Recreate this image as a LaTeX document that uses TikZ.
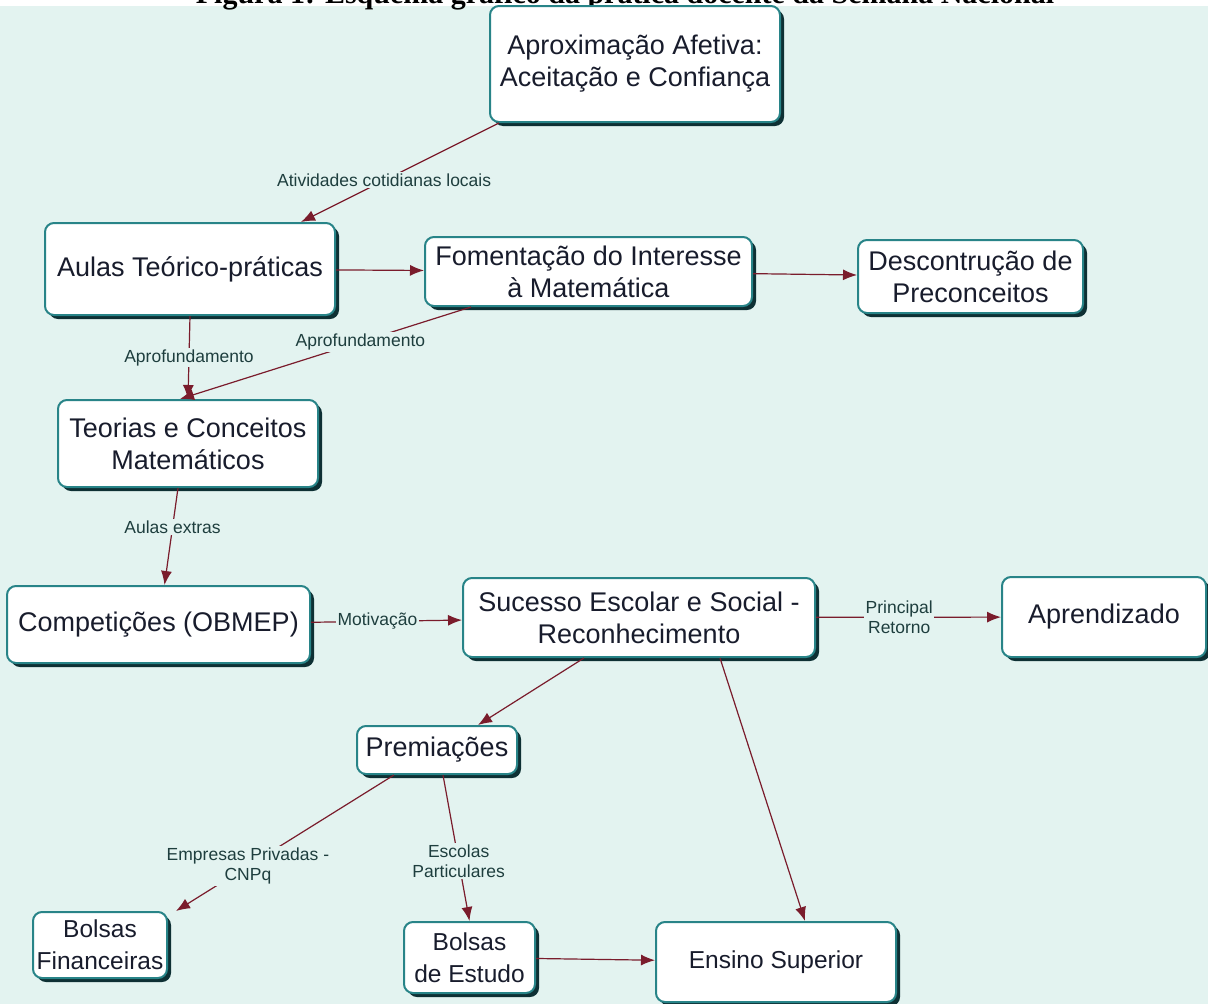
\documentclass[tikz,border=0pt]{standalone}
\usepackage{fontspec}
\setmainfont{Liberation Sans}
\newfontfamily\titlefont{Liberation Serif}
\usetikzlibrary{arrows.meta,shadows,calc}
\definecolor{fundo}{RGB}{227,243,240}
\definecolor{borda}{RGB}{40,132,136}
\definecolor{sombra}{RGB}{14,48,52}
\definecolor{seta}{RGB}{122,28,44}
\definecolor{texto}{RGB}{24,28,44}
\definecolor{cortexto}{RGB}{30,62,62}
\tikzset{
  caixa/.style={rectangle, rounded corners=9pt, draw=borda, line width=2pt, fill=white,
    text=texto, align=center, inner sep=0pt, font=\fontsize{27}{32}\selectfont,
    drop shadow={shadow xshift=4pt, shadow yshift=-4pt, fill=sombra, opacity=1}},
  menor/.style={font=\fontsize{24.5}{32}\selectfont},
  liga/.style={draw=seta, line width=1.2pt, -{Latex[length=14pt,width=11pt]}},
  rotulo/.style={fill=fundo, text=cortexto, inner sep=1.5pt, align=center,
    font=\fontsize{17.5}{20}\selectfont}
}
\begin{document}
\begin{tikzpicture}[x=1pt,y=-1pt]
      % fundo e titulo cortado
      \useasboundingbox (0,0) rectangle (1208,1004);
      \fill[fundo] (0,6) rectangle (1208,1004);
      \node[anchor=base, font=\titlefont\bfseries\fontsize{30}{32}\selectfont] (titulo) at (625,3)
        {Figura 1: Esquema gráfico da prática docente da Semana Nacional};
      % caixas
      \node[caixa, minimum width=290pt, minimum height=116pt] (aprox) at (635,64) {Aproximação Afetiva:\\Aceitação e Confiança};
      \node[caixa, minimum width=290pt, minimum height=92pt] (aulas) at (190,269) {Aulas Teórico-práticas};
      \node[caixa, minimum width=327pt, minimum height=69pt] (foment) at (588.5,271.5) {Fomentação do Interesse\\à Matemática};
      \node[caixa, minimum width=225pt, minimum height=73pt] (descons) at (970.5,276.5) {Descontrução de\\Preconceitos};
      \node[caixa, minimum width=260pt, minimum height=87pt] (teorias) at (188,443.5) {Teorias e Conceitos\\Matemáticos};
      \node[caixa, minimum width=303pt, minimum height=77pt] (compet) at (158.5,624.5) {Competições (OBMEP)};
      \node[caixa, minimum width=352pt, minimum height=79pt] (sucesso) at (639,617.5) {Sucesso Escolar e Social -\\Reconhecimento};
      \node[caixa, minimum width=204pt, minimum height=80pt] (aprend) at (1104,617) {Aprendizado};
      \node[caixa, minimum width=160pt, minimum height=48pt] (premios) at (437,750) {Premiações};
      \node[caixa, menor, minimum width=134pt, minimum height=66pt] (bolsafin) at (100,945) {Bolsas\\Financeiras};
      \node[caixa, menor, minimum width=131pt, minimum height=71pt] (bolsaest) at (469.5,957.5) {Bolsas\\de Estudo};
      \node[caixa, menor, minimum width=240pt, minimum height=80pt] (ensino) at (776,962) {Ensino Superior};
      % ligacoes
      \draw[liga] ($(aprox.south west)+(10,0)$) -- node[rotulo, pos=.58] (r1) {Atividades cotidianas locais} ($(aulas.north east)+(-35,0)$);
      \draw[liga] (aulas) -- (foment);
      \draw[liga] (foment) -- (descons);
      \draw[liga] (aulas.south) -- node[rotulo] (r2) {Aprofundamento} (teorias.north);
      \draw[liga] ($(foment.south west)+(47,0)$) -- node[rotulo, pos=.38] (r3) {Aprofundamento} ($(teorias.north)+(-8,0)$);
      \draw[liga] ($(teorias.south)+(-10,0)$) -- node[rotulo, pos=.4] (r4) {Aulas extras} ($(compet.north)+(6,0)$);
      \draw[liga] (compet) -- node[rotulo, pos=.44] (r5) {Motivação} (sucesso);
      \draw[liga] (sucesso) -- node[rotulo, pos=.45] (r6) {Principal\\Retorno} (aprend);
      \draw[liga] ($(sucesso.south west)+(122,0)$) -- ($(premios.north east)+(-40,0)$);
      \draw[liga] ($(sucesso.south)+(81,0)$) -- ($(ensino.north)+(29,0)$);
      \draw[liga] ($(premios.south west)+(38,0)$) -- node[rotulo, pos=.67] (r7) {Empresas Privadas -\\CNPq} ($(bolsafin.north east)+(8,0)$);
      \draw[liga] ($(premios.south)+(6,0)$) -- node[rotulo, pos=.59] (r8) {Escolas\\Particulares} (bolsaest.north);
      \draw[liga] (bolsaest) -- (ensino);
\end{tikzpicture}
\end{document}
